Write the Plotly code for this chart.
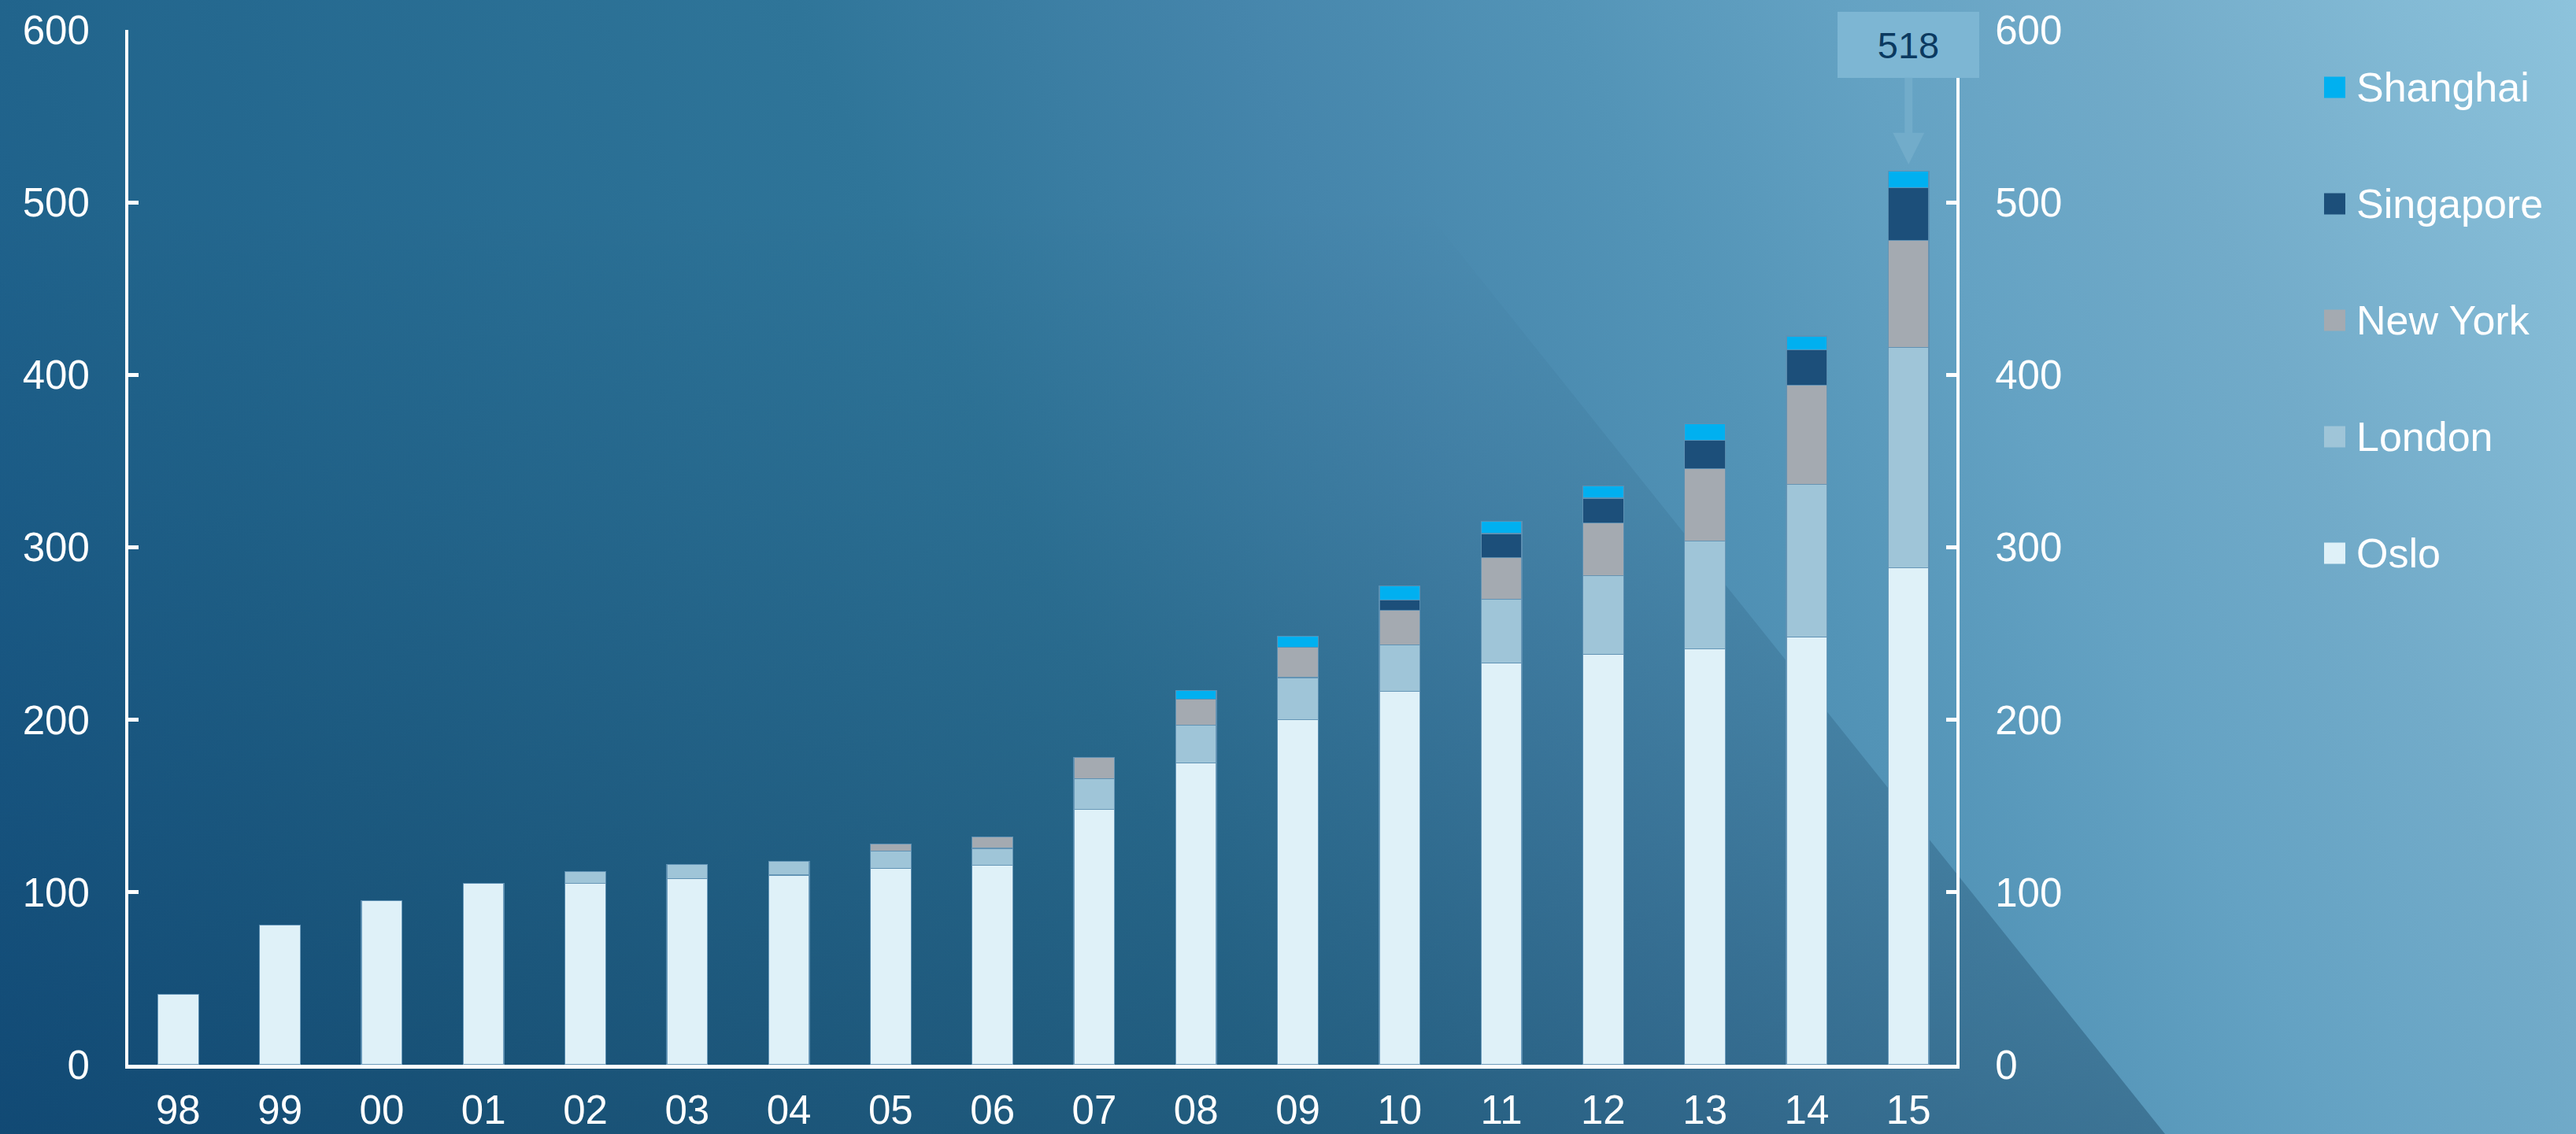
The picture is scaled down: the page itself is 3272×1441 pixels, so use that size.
import base64
import plotly.graph_objects as go

# ---------------- data ----------------
years = ["98", "99", "00", "01", "02", "03", "04", "05", "06",
         "07", "08", "09", "10", "11", "12", "13", "14", "15"]
oslo      = [41, 81, 95, 105, 105, 108, 110, 114, 115.5, 148, 175, 200, 216.5, 233, 238, 241, 248, 288]
london    = [0, 0, 0, 0, 7, 8, 8, 10, 10, 18, 22, 24.5, 27, 37, 45.5, 62.5, 88.5, 128]
new_york  = [0, 0, 0, 0, 0, 0, 0, 4, 6.5, 12, 15, 17.5, 20, 24, 30.5, 42, 57.5, 62]
singapore = [0, 0, 0, 0, 0, 0, 0, 0, 0, 0, 0, 0, 6, 14, 14.5, 16.5, 20.5, 30.5]
shanghai  = [0, 0, 0, 0, 0, 0, 0, 0, 0, 0, 5, 6.5, 8, 7, 7, 9.5, 8, 9.5]
series_names = ["Oslo", "London", "New York", "Singapore", "Shanghai"]
series_values = [oslo, london, new_york, singapore, shanghai]
y_ticks = [0, 100, 200, 300, 400, 500, 600]

# ---------------- style ----------------
colors = ["#dff1f8", "#9fc5d8", "#a4aab1", "#1c4f7a", "#00b0f0"]
W, H = 3272, 1441
ML, MR, MT, MB = 163, 787, 38, 88
PW, PH = W - ML - MR, H - MT - MB
FONT = "Arial, Liberation Sans, sans-serif"

def px_x(px):
    return (px - ML) / PW

def px_y(py):
    return (H - MB - py) / PH

svg = f'''<svg xmlns="http://www.w3.org/2000/svg" width="{W}" height="{H}" viewBox="0 0 {W} {H}">
<defs>
<linearGradient id="g" gradientUnits="userSpaceOnUse" x1="0" y1="{H}" x2="{W}" y2="0">
<stop offset="0" stop-color="#17598a"/>
<stop offset="0.16" stop-color="#21648c"/>
<stop offset="0.42" stop-color="#2f7599"/>
<stop offset="0.56" stop-color="#4585ab"/>
<stop offset="0.67" stop-color="#5394b7"/>
<stop offset="0.76" stop-color="#64a2c3"/>
<stop offset="0.85" stop-color="#72abc9"/>
<stop offset="1" stop-color="#8dc3dc"/>
</linearGradient>
<linearGradient id="d" gradientUnits="userSpaceOnUse" x1="0" y1="0" x2="0" y2="{H}">
<stop offset="0" stop-color="#062a48" stop-opacity="0"/>
<stop offset="0.18" stop-color="#062a48" stop-opacity="0"/>
<stop offset="0.45" stop-color="#062a48" stop-opacity="0.09"/>
<stop offset="1" stop-color="#062a48" stop-opacity="0.33"/>
</linearGradient>
</defs>
<rect width="{W}" height="{H}" fill="url(#g)"/>
<polygon points="0,0 1597,0 2750,{H} 0,{H}" fill="url(#d)"/>
</svg>'''
bg_src = "data:image/svg+xml;base64," + base64.b64encode(svg.encode()).decode()

fig = go.Figure()
for name, vals, col in zip(series_names, series_values, colors):
    fig.add_trace(go.Bar(
        x=years, y=vals, name=name, showlegend=False,
        marker=dict(color=col, line=dict(color="rgba(95,145,180,0.9)", width=1.2)),
    ))

totals = [sum(v) for v in zip(*series_values)]
fig.add_trace(go.Scatter(x=years, y=totals, yaxis="y2", mode="markers",
                         marker=dict(opacity=0), showlegend=False, hoverinfo="skip"))

axis_common = dict(
    range=[0, 600], tickvals=y_ticks, showgrid=False, zeroline=False,
    showline=True, linecolor="white", linewidth=4,
    ticks="inside", ticklen=13, tickwidth=5, tickcolor="white",
    tickfont=dict(family=FONT, size=51, color="white"),
    ticklabelstandoff=35,
)

shapes = []
annotations = []
# manual legend (top: Shanghai ... bottom: Oslo)
leg_y0 = 111
leg_step = 148
for i, (name, col) in enumerate(zip(reversed(series_names), reversed(colors))):
    cy = leg_y0 + i * leg_step
    shapes.append(dict(type="rect", xref="paper", yref="paper",
                       x0=px_x(2952), x1=px_x(2979), y0=px_y(cy + 13.5), y1=px_y(cy - 13.5),
                       fillcolor=col, line=dict(width=0)))
    annotations.append(dict(xref="paper", yref="paper", x=px_x(2991), y=px_y(cy),
                            xanchor="left", yanchor="middle", showarrow=False,
                            text=name, font=dict(family=FONT, size=52, color="white")))

# callout for the last total (category axis: position by index)
last = len(years) - 1
annotations.append(dict(
    x=last, y=totals[last], xref="x", yref="y",
    text=f"{totals[last]:.0f}", font=dict(family=FONT, size=47, color="#0b3a60"),
    bgcolor="#7db6d3", borderpad=1, borderwidth=0, width=178, height=82,
    showarrow=True, ax=0, ay=-161, arrowcolor="#72acca", arrowwidth=10,
    arrowhead=2, arrowsize=0.8, standoff=9,
))

fig.update_layout(
    width=W, height=H,
    margin=dict(l=ML, r=MR, t=MT, b=MB, autoexpand=False),
    barmode="stack", bargap=0.6,
    paper_bgcolor="#1f6590", plot_bgcolor="rgba(0,0,0,0)",
    xaxis=dict(type="category", range=[-0.49, len(years) - 0.53],
               showgrid=False, zeroline=False,
               showline=True, linecolor="white", linewidth=5, ticks="",
               tickfont=dict(family=FONT, size=51, color="white"),
               ticklabelstandoff=9),
    yaxis=dict(side="left", **axis_common),
    yaxis2=dict(side="right", overlaying="y", **axis_common),
    images=[dict(source=bg_src, xref="paper", yref="paper",
                 x=-ML / PW, y=1 + MT / PH, sizex=W / PW, sizey=H / PH,
                 xanchor="left", yanchor="top", sizing="stretch", layer="below")],
    shapes=shapes, annotations=annotations,
    showlegend=False,
)

fig.write_html("out.html")
